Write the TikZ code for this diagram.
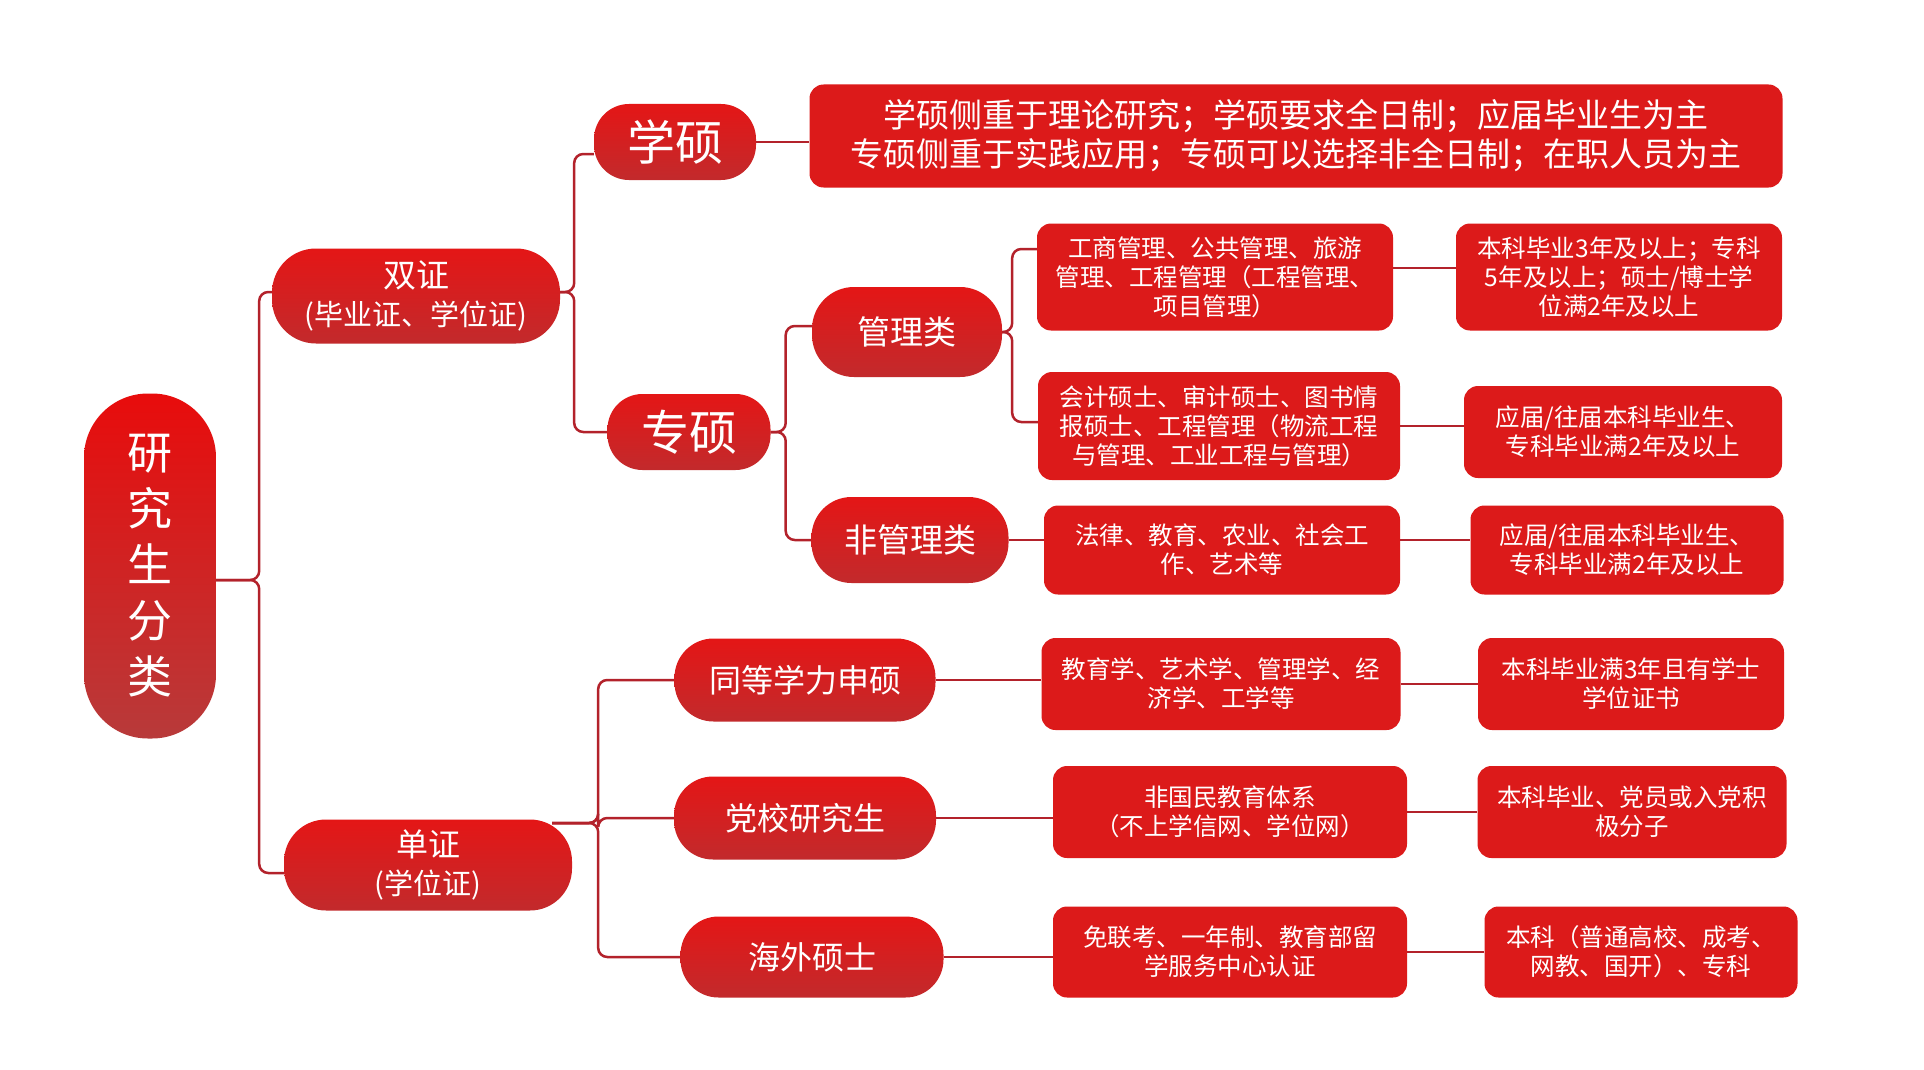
\documentclass[tikz,border=0pt]{standalone}
\usepackage{fontspec}
\newfontfamily\cjk{Noto Sans CJK SC}
\usepackage{xcolor}
\usetikzlibrary{backgrounds}
\definecolor{rootred}{HTML}{E80C0C}
\definecolor{rootdark}{HTML}{B83A3A}
\definecolor{pillred}{HTML}{E41616}
\definecolor{pilldark}{HTML}{C22A2C}
\definecolor{boxred}{HTML}{DC1A1A}
\definecolor{linkred}{HTML}{B3222B}
\tikzstyle{rootbox} = [top color=rootred, bottom color=rootdark, text=white,
    rounded corners=64pt, minimum width=132pt, minimum height=345pt,
    inner sep=0pt, align=center, font=\cjk\fontsize{45}{56}\selectfont]
\tikzstyle{pill} = [top color=pillred, bottom color=pilldark, text=white,
    inner sep=0pt, align=center]
\tikzstyle{infobox} = [fill=boxred, text=white, rounded corners=14pt,
    inner sep=0pt, align=center, font=\cjk\fontsize{24.5}{29}\selectfont]
\tikzstyle{link} = [draw=linkred, line width=2.5pt, rounded corners=9pt]

\begin{document}
\begin{tikzpicture}[x=1pt,y=-1pt]
\useasboundingbox (0,0) rectangle (1924,1070);

\node[rootbox] (root) at (150,566) {研\\究\\生\\分\\类};

\node[pill, minimum width=288pt, minimum height=95pt, rounded corners=44pt,
    font=\cjk\fontsize{29}{38}\selectfont] (shuang) at (416,296)
    {{\fontsize{33}{38}\selectfont 双证}\\(毕业证、学位证)};
\node[pill, minimum width=288pt, minimum height=91pt, rounded corners=42pt,
    font=\cjk\fontsize{29}{38}\selectfont] (dan) at (428,865)
    {{\fontsize{32}{38}\selectfont 单证}\\(学位证)};

\node[pill, minimum width=162pt, minimum height=76pt, rounded corners=35pt,
    font=\cjk\fontsize{48}{52}\selectfont] (xue) at (675,142) {学硕};
\node[pill, minimum width=163pt, minimum height=76pt, rounded corners=35pt,
    font=\cjk\fontsize{48}{52}\selectfont] (zhuan) at (689,432) {专硕};

\node[infobox, minimum width=973pt, minimum height=103pt,
    font=\cjk\fontsize{33}{39}\selectfont] (xuenote) at (1296,136)
    {学硕侧重于理论研究；学硕要求全日制；应届毕业生为主\\专硕侧重于实践应用；专硕可以选择非全日制；在职人员为主};

\node[pill, minimum width=190pt, minimum height=90pt, rounded corners=42pt,
    font=\cjk\fontsize{33}{38}\selectfont] (guanli) at (907,332) {管理类};
\node[pill, minimum width=197pt, minimum height=86pt, rounded corners=40pt,
    font=\cjk\fontsize{33}{38}\selectfont] (feiguanli) at (910,540) {非管理类};

\node[infobox, minimum width=356pt, minimum height=107pt] (ginfoa) at (1215,277)
    {工商管理、公共管理、旅游\\管理、工程管理（工程管理、\\项目管理）};
\node[infobox, minimum width=326pt, minimum height=107pt] (greqa) at (1619,277)
    {本科毕业3年及以上；专科\\5年及以上；硕士/博士学\\位满2年及以上};
\node[infobox, minimum width=362pt, minimum height=108pt] (ginfob) at (1219,426)
    {会计硕士、审计硕士、图书情\\报硕士、工程管理（物流工程\\与管理、工业工程与管理）};
\node[infobox, minimum width=318pt, minimum height=92pt] (greqb) at (1623,432)
    {应届/往届本科毕业生、\\专科毕业满2年及以上};
\node[infobox, minimum width=356pt, minimum height=89pt] (finfo) at (1222,550)
    {法律、教育、农业、社会工\\作、艺术等};
\node[infobox, minimum width=313pt, minimum height=89pt] (freq) at (1627,550)
    {应届/往届本科毕业生、\\专科毕业满2年及以上};

\node[pill, minimum width=261pt, minimum height=83pt, rounded corners=39pt,
    font=\cjk\fontsize{32}{38}\selectfont] (tongdeng) at (805,680) {同等学力申硕};
\node[pill, minimum width=262pt, minimum height=83pt, rounded corners=39pt,
    font=\cjk\fontsize{32}{38}\selectfont] (dangxiao) at (805,818) {党校研究生};
\node[pill, minimum width=263pt, minimum height=81pt, rounded corners=38pt,
    font=\cjk\fontsize{32}{38}\selectfont] (haiwai) at (812,957) {海外硕士};

\node[infobox, minimum width=359pt, minimum height=92pt] (tinfo) at (1221,684)
    {教育学、艺术学、管理学、经\\济学、工学等};
\node[infobox, minimum width=306pt, minimum height=92pt] (treq) at (1631,684)
    {本科毕业满3年且有学士\\学位证书};
\node[infobox, minimum width=354pt, minimum height=92pt] (dinfo) at (1230,812)
    {非国民教育体系\\（不上学信网、学位网）};
\node[infobox, minimum width=309pt, minimum height=92pt] (dreq) at (1632,812)
    {本科毕业、党员或入党积\\极分子};
\node[infobox, minimum width=354pt, minimum height=91pt] (hinfo) at (1230,952)
    {免联考、一年制、教育部留\\学服务中心认证};
\node[infobox, minimum width=313pt, minimum height=91pt] (hreq) at (1641,952)
    {本科（普通高校、成考、\\网教、国开）、专科};

\begin{pgfonlayer}{background}
\fill[white] (0,0) rectangle (1924,1070);
% brackets
\draw[link] ([yshift=-14pt]root.east) -- ++(43,0) |- ([yshift=4pt]shuang.west);
\draw[link] ([yshift=-14pt]root.east) -- ++(43,0) |- ([yshift=-8pt]dan.west);
\draw[link] ([yshift=4pt]shuang.east) -- ++(14,0) |- ([yshift=-12pt]xue.west);
\draw[link] ([yshift=4pt]shuang.east) -- ++(14,0) |- (zhuan.west);
\draw[link] (zhuan.east) -- ++(15,0) |- ([yshift=6pt]guanli.west);
\draw[link] (zhuan.east) -- ++(15,0) |- (feiguanli.west);
\draw[link] (guanli.east) -- ++(10,0) |- ([yshift=28pt]ginfoa.west);
\draw[link] (guanli.east) -- ++(10,0) |- ([yshift=4pt]ginfob.west);
\draw[link] ([xshift=-20pt,yshift=42pt]dan.east) -- ++(46,0) |- (tongdeng.west);
\draw[link] ([xshift=-20pt,yshift=42pt]dan.east) -- ++(46,0) |- (dangxiao.west);
\draw[link] ([xshift=-20pt,yshift=42pt]dan.east) -- ++(46,0) |- (haiwai.west);

% straight links
\draw[link] (xue.east) -- (xuenote.west |- xue.east);
\draw[link] ([yshift=9pt]ginfoa.east) -- ([yshift=9pt]greqa.west);
\draw[link] (ginfob.east) -- (greqb.west |- ginfob.east);
\draw[link] (feiguanli.east) -- (finfo.west |- feiguanli.east);
\draw[link] (finfo.east |- feiguanli.east) -- (freq.west |- feiguanli.east);
\draw[link] (tongdeng.east) -- (tinfo.west |- tongdeng.east);
\draw[link] (tinfo.east) -- (treq.west);
\draw[link] (dangxiao.east) -- (dinfo.west |- dangxiao.east);
\draw[link] (dinfo.east) -- (dreq.west);
\draw[link] (haiwai.east) -- (hinfo.west |- haiwai.east);
\draw[link] (hinfo.east) -- (hreq.west);
\end{pgfonlayer}
\end{tikzpicture}
\end{document}
